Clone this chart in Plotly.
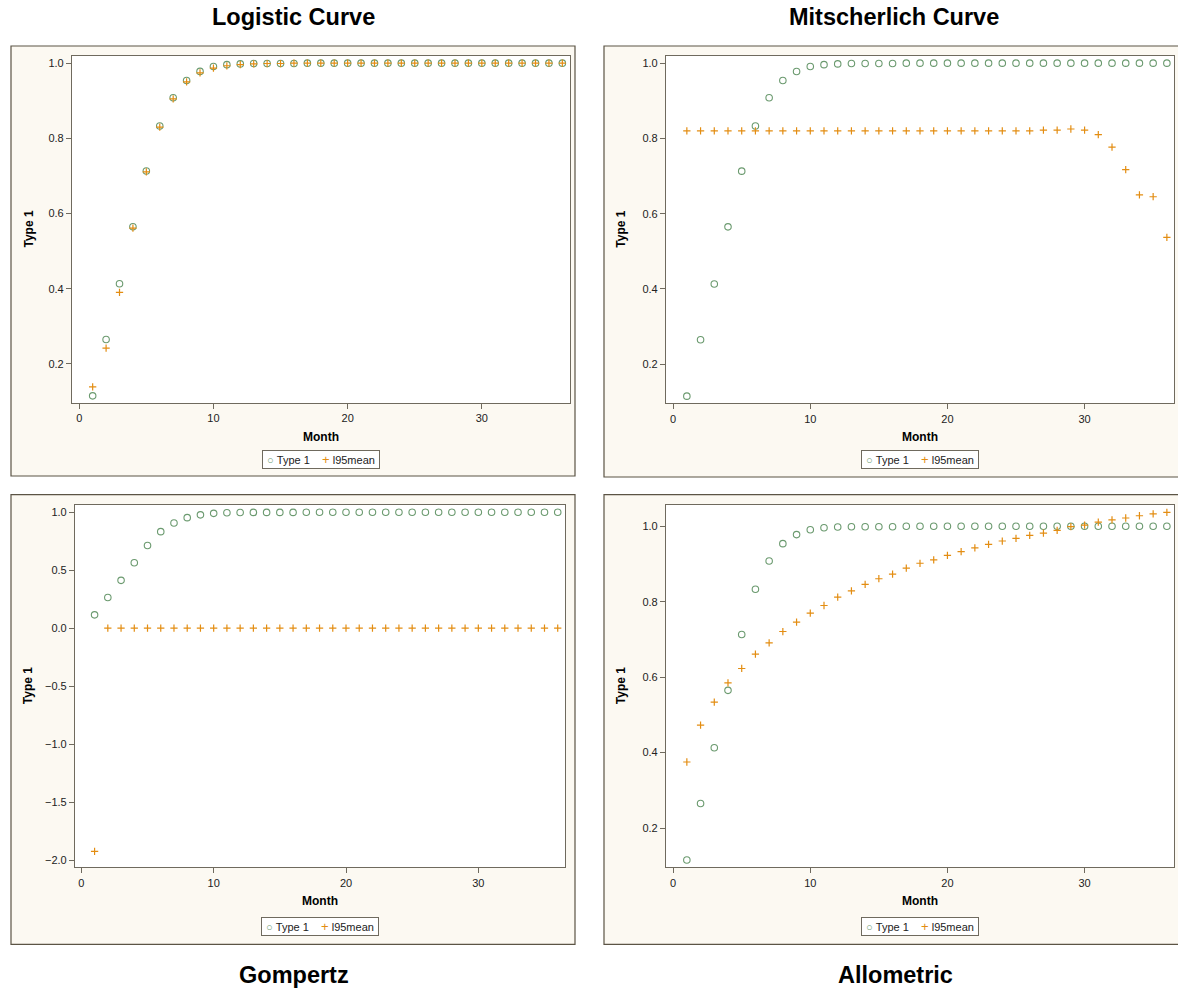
import plotly.graph_objects as go

# ---- data -------------------------------------------------------------
months = list(range(1, 37))

type1 = [0.115, 0.265, 0.413, 0.565, 0.713, 0.833, 0.908, 0.954, 0.978, 0.991,
         0.996, 0.998, 0.999, 0.999, 0.999, 0.999, 1.0, 1.0, 1.0, 1.0,
         1.0, 1.0, 1.0, 1.0, 1.0, 1.0, 1.0, 1.0, 1.0, 1.0,
         1.0, 1.0, 1.0, 1.0, 1.0, 1.0]

logistic_l95 = [0.139, 0.242, 0.390, 0.561, 0.711, 0.830, 0.905, 0.950, 0.974, 0.987,
                0.993, 0.996, 0.998, 0.999, 0.999, 1.0, 1.0, 1.0, 1.0, 1.0,
                1.0, 1.0, 1.0, 1.0, 1.0, 1.0, 1.0, 1.0, 1.0, 1.0,
                1.0, 1.0, 1.0, 1.0, 1.0, 1.0]

mitscherlich_l95 = [0.820, 0.820, 0.820, 0.820, 0.820, 0.820, 0.820, 0.820, 0.820, 0.820,
                    0.820, 0.820, 0.820, 0.820, 0.820, 0.820, 0.820, 0.820, 0.820, 0.820,
                    0.820, 0.820, 0.820, 0.820, 0.820, 0.820, 0.822, 0.822, 0.825, 0.822,
                    0.810, 0.777, 0.717, 0.650, 0.645, 0.537]

gompertz_l95 = [-1.925, 0.0, 0.0, 0.0, 0.0, 0.0, 0.0, 0.0, 0.0, 0.0,
                0.0, 0.0, 0.0, 0.0, 0.0, 0.0, 0.0, 0.0, 0.0, 0.0,
                0.0, 0.0, 0.0, 0.0, 0.0, 0.0, 0.0, 0.0, 0.0, 0.0,
                0.0, 0.0, 0.0, 0.0, 0.0, 0.0]

allometric_l95 = [0.375, 0.473, 0.534, 0.585, 0.623, 0.661, 0.691, 0.721, 0.746, 0.770,
                  0.790, 0.812, 0.829, 0.846, 0.861, 0.873, 0.889, 0.902, 0.911, 0.923,
                  0.933, 0.943, 0.952, 0.961, 0.968, 0.976, 0.982, 0.989, 0.999, 1.003,
                  1.011, 1.017, 1.022, 1.028, 1.033, 1.037]

panel_titles = ["Logistic Curve", "Mitscherlich Curve", "Gompertz", "Allometric"]
series_names = ["Type 1", "l95mean"]
x_ticks = [0, 10, 20, 30]

# ---- page geometry (pixels) -------------------------------------------
W, H = 1178, 990


def fx(p):
    return p / W


def fy(p):
    return 1 - p / H


GREEN = "#6b9a6f"
ORANGE = "#e38d12"
CREAM = "#fcf9f2"
FRAME = "#5b5445"
AXIS = "#6f6a5e"
TXT = "#222222"
FONT = "Liberation Sans Narrow, Arial Narrow, Liberation Sans, Arial, sans-serif"

panels = [
    dict(plot=(72, 570, 56, 403), frame=(11, 575, 46, 476),
         xr=[-0.54, 36.57], yr=[0.096, 1.019], yt=[0.2, 0.4, 0.6, 0.8, 1.0],
         l95=logistic_l95, leg=(320.5, 459.5), ytitle_x=28),
    dict(plot=(666, 1174, 56, 403.3), frame=(604, 1184, 46, 477),
         xr=[-0.52, 36.52], yr=[0.096, 1.019], yt=[0.2, 0.4, 0.6, 0.8, 1.0],
         l95=mitscherlich_l95, leg=(920, 459.5), ytitle_x=621),
    dict(plot=(75, 565, 505, 867.3), frame=(11, 575, 494.7, 944.3),
         xr=[-0.48, 36.55], yr=[-2.063, 1.063], yt=[-2.0, -1.5, -1.0, -0.5, 0.0, 0.5, 1.0],
         l95=gompertz_l95, leg=(320, 926.5), ytitle_x=28),
    dict(plot=(666, 1174, 505, 867.3), frame=(604, 1184, 494.7, 944.3),
         xr=[-0.52, 36.52], yr=[0.0958, 1.0565], yt=[0.2, 0.4, 0.6, 0.8, 1.0],
         l95=allometric_l95, leg=(920, 926.5), ytitle_x=621),
]

fig = go.Figure()
shapes = []
annotations = []
layout = dict(width=W, height=H, margin=dict(l=0, r=0, t=0, b=0),
              paper_bgcolor="white", plot_bgcolor="white", showlegend=False,
              font=dict(family=FONT, size=11, color=TXT))

# compact legend key: coloured glyphs followed by the series names
legend_text = (f'\u00a0<span style="color:{GREEN};font-size:11px">\u25cb</span>\u00a0{series_names[0]}'
               f'\u00a0\u00a0\u00a0\u00a0<span style="color:{ORANGE};font-size:13px">+</span>\u00a0{series_names[1]}\u00a0')

for i, p in enumerate(panels):
    n = i + 1
    xa = "x" if n == 1 else f"x{n}"
    ya = "y" if n == 1 else f"y{n}"
    l, r, t, b = p["plot"]
    fl, fr, ft, fb = p["frame"]

    # cream panel frame, then the white plotting area on top of it
    shapes.append(dict(type="rect", xref="paper", yref="paper",
                       x0=fx(fl), x1=fx(fr), y0=fy(fb), y1=fy(ft),
                       fillcolor=CREAM, line=dict(color=FRAME, width=1.2), layer="below"))
    shapes.append(dict(type="rect", xref=f"{xa} domain", yref=f"{ya} domain",
                       x0=0, x1=1, y0=0, y1=1, fillcolor="white",
                       line=dict(width=0), layer="below"))

    fig.add_trace(go.Scatter(
        x=months, y=type1, mode="markers", name=series_names[0],
        xaxis=xa, yaxis=ya,
        marker=dict(symbol="circle-open", size=6.5, color=GREEN, line=dict(width=1.1, color=GREEN)),
    ))
    fig.add_trace(go.Scatter(
        x=months, y=p["l95"], mode="markers", name=series_names[1],
        xaxis=xa, yaxis=ya,
        marker=dict(symbol="cross-thin", size=5.2, color=ORANGE, line=dict(width=1.2, color=ORANGE)),
    ))

    xkey = "xaxis" if n == 1 else f"xaxis{n}"
    ykey = "yaxis" if n == 1 else f"yaxis{n}"
    layout[xkey] = dict(domain=[fx(l), fx(r)], range=p["xr"], anchor=ya,
                        tickvals=x_ticks, ticks="outside", ticklen=5, tickcolor=AXIS,
                        showline=True, linecolor=AXIS, linewidth=1.2, mirror=True,
                        showgrid=False, zeroline=False,
                        tickfont=dict(family=FONT, size=11, color=TXT),
                        title=dict(text="<b>Month</b>", standoff=9,
                                   font=dict(family=FONT, size=12, color="#000")))
    layout[ykey] = dict(domain=[fy(b), fy(t)], range=p["yr"], anchor=xa,
                        tickvals=p["yt"], tickformat=".1f", ticks="outside", ticklen=5,
                        tickcolor=AXIS, showline=True, linecolor=AXIS, linewidth=1.2,
                        mirror=True, showgrid=False, zeroline=False,
                        tickfont=dict(family=FONT, size=11, color=TXT))
    annotations.append(dict(text="<b>Type 1</b>", textangle=-90, xref="paper", yref="paper",
                            x=fx(p["ytitle_x"]), y=fy((t + b) / 2), showarrow=False,
                            xanchor="center", yanchor="middle",
                            font=dict(family=FONT, size=12, color="#000")))

    annotations.append(dict(text=legend_text, xref="paper", yref="paper",
                            x=fx(p["leg"][0]), y=fy(p["leg"][1]), showarrow=False,
                            xanchor="center", yanchor="middle",
                            bgcolor="white", bordercolor=AXIS, borderwidth=1, borderpad=1,
                            font=dict(family=FONT, size=11, color=TXT)))

# panel headings
title_pos = [(293.5, 17), (894, 17), (294, 975), (895, 975)]
for txt, (tx, ty) in zip(panel_titles, title_pos):
    annotations.append(dict(text=f"<b>{txt}</b>", xref="paper", yref="paper",
                            x=fx(tx), y=fy(ty), showarrow=False,
                            xanchor="center", yanchor="middle",
                            font=dict(family="Liberation Sans, Arial, sans-serif", size=23.5, color="#000")))

layout["shapes"] = shapes
layout["annotations"] = annotations
fig.update_layout(**layout)

fig.write_html("out.html")
